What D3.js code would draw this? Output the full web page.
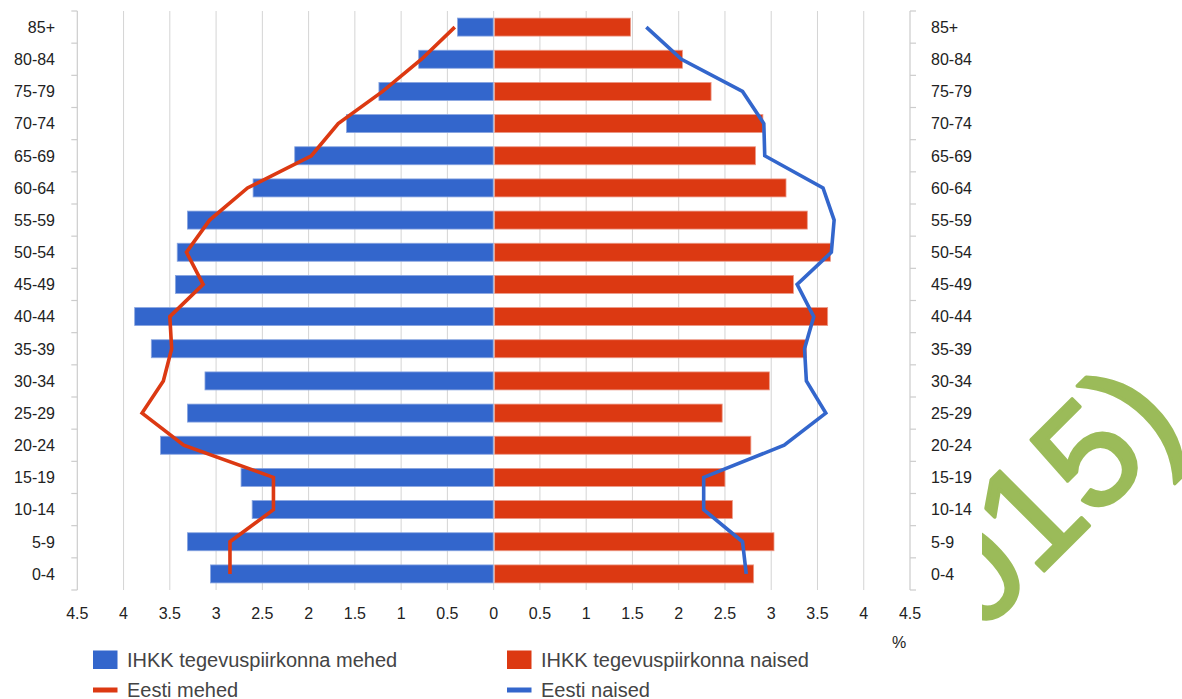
<!DOCTYPE html>
<html>
<head>
<meta charset="utf-8">
<script src="https://cdn.jsdelivr.net/npm/d3@7"></script>
<style>
  html, body { margin: 0; padding: 0; background: #fff; }
  svg { display: block; font-family: "Liberation Sans", Arial, sans-serif; }
</style>
</head>
<body>
<svg id="chart" width="1182" height="699"></svg>
<script>
// ---- data ----
const categories = ["85+","80-84","75-79","70-74","65-69","60-64","55-59","50-54","45-49",
                    "40-44","35-39","30-34","25-29","20-24","15-19","10-14","5-9","0-4"];
const ihkkMen   = [0.39,0.81,1.24,1.59,2.15,2.60,3.31,3.42,3.44,3.88,3.70,3.12,3.31,3.60,2.73,2.61,3.31,3.06];
const ihkkWomen = [1.48,2.04,2.35,2.91,2.83,3.16,3.39,3.64,3.24,3.61,3.38,2.98,2.47,2.78,2.50,2.58,3.03,2.81];
const estMen    = [0.42,0.78,1.20,1.68,1.97,2.66,3.07,3.32,3.14,3.50,3.48,3.57,3.80,3.35,2.38,2.38,2.85,2.85];
const estWomen  = [1.65,2.03,2.69,2.92,2.93,3.56,3.68,3.65,3.28,3.46,3.36,3.38,3.59,3.14,2.27,2.27,2.69,2.73];
const xTicks    = [-4.5,-4,-3.5,-3,-2.5,-2,-1.5,-1,-0.5,0,0.5,1,1.5,2,2.5,3,3.5,4,4.5];
const legendItems = ["IHKK tegevuspiirkonna mehed","IHKK tegevuspiirkonna naised","Eesti mehed","Eesti naised"];
const watermark = "015)";

const BLUE = "#3366cc", RED = "#dc3912";

const svg = d3.select("#chart");
const x = d3.scaleLinear().domain([-4.5, 4.5]).range([77.3, 910]);
const y = d3.scaleBand().domain(categories).range([11, 590]).paddingInner(0.44).paddingOuter(0.22);
const yc = c => y(c) + y.bandwidth() / 2;

// ---- watermark (partially visible, clipped) ----
svg.append("defs").append("clipPath").attr("id", "wmclip")
  .append("rect").attr("x", 982).attr("y", 0).attr("width", 220).attr("height", 699);
svg.append("g").attr("clip-path", "url(#wmclip)")
  .append("text")
  .attr("transform", "translate(978,637) rotate(-45)")
  .attr("font-size", 148)
  .attr("fill", "#9bbb59")
  .attr("stroke", "#9bbb59").attr("stroke-width", 3.5).attr("stroke-linejoin", "round")
  .text(watermark);

// ---- gridlines ----
svg.append("g").selectAll("line").data(xTicks.slice(1, -1)).join("line")
  .attr("x1", d => x(d)).attr("x2", d => x(d))
  .attr("y1", 11).attr("y2", 590)
  .attr("stroke", "#d4d4d4").attr("stroke-width", 1);

// ---- side axis lines + ticks ----
const boundaries = d3.range(categories.length + 1).map(i => 11 + i * (579 / categories.length));
[[x(-4.5), -6], [x(4.5), 6]].forEach(([ax, dir]) => {
  svg.append("line").attr("x1", ax).attr("x2", ax).attr("y1", 11).attr("y2", 590)
    .attr("stroke", "#cccccc").attr("stroke-width", 1.2);
  svg.append("g").selectAll("line").data(boundaries).join("line")
    .attr("x1", ax).attr("x2", ax + dir)
    .attr("y1", d => d).attr("y2", d => d)
    .attr("stroke", "#cccccc").attr("stroke-width", 1.2);
});

// ---- bars ----
svg.append("g").selectAll("rect").data(categories).join("rect")
  .attr("x", (c, i) => x(-ihkkMen[i]))
  .attr("y", c => y(c))
  .attr("width", (c, i) => x(0) - 0.5 - x(-ihkkMen[i]))
  .attr("height", y.bandwidth())
  .attr("fill", BLUE).attr("stroke", "#8aa6e0").attr("stroke-width", 0.8);
svg.append("g").selectAll("rect").data(categories).join("rect")
  .attr("x", x(0) + 1)
  .attr("y", c => y(c))
  .attr("width", (c, i) => x(ihkkWomen[i]) - x(0) - 1)
  .attr("height", y.bandwidth())
  .attr("fill", RED).attr("stroke", "#ec9a88").attr("stroke-width", 0.8);

// ---- lines ----
const lineGen = d3.line().x(d => d[0]).y(d => d[1]);
svg.append("path")
  .attr("d", lineGen(categories.map((c, i) => [x(-estMen[i]), yc(c)])))
  .attr("fill", "none").attr("stroke", RED).attr("stroke-width", 3.6)
  .attr("stroke-linejoin", "miter");
svg.append("path")
  .attr("d", lineGen(categories.map((c, i) => [x(estWomen[i]), yc(c)])))
  .attr("fill", "none").attr("stroke", BLUE).attr("stroke-width", 3.6)
  .attr("stroke-linejoin", "miter");

// ---- category labels ----
svg.append("g").selectAll("text").data(categories).join("text")
  .attr("x", 55).attr("y", c => yc(c)).attr("dy", "0.36em")
  .attr("text-anchor", "end").attr("font-size", 16).attr("fill", "#222")
  .text(c => c);
svg.append("g").selectAll("text").data(categories).join("text")
  .attr("x", 931).attr("y", c => yc(c)).attr("dy", "0.36em")
  .attr("text-anchor", "start").attr("font-size", 16).attr("fill", "#222")
  .text(c => c);

// ---- x tick labels ----
svg.append("g").selectAll("text").data(xTicks).join("text")
  .attr("x", d => x(d)).attr("y", 619)
  .attr("text-anchor", "middle").attr("font-size", 16).attr("fill", "#222")
  .text(d => d3.format("~g")(Math.abs(d)));
svg.append("text").attr("x", 899).attr("y", 648)
  .attr("text-anchor", "middle").attr("font-size", 16).attr("fill", "#222").text("%");

// ---- legend ----
const lg = svg.append("g");
const legendPos = [[93, 660, "rect", BLUE], [507, 660, "rect", RED], [93, 690, "line", RED], [507, 690, "line", BLUE]];
legendItems.forEach((t, i) => {
  const [lx, ly, kind, col] = legendPos[i];
  if (kind === "rect") {
    lg.append("rect").attr("x", lx).attr("y", ly - 9.5).attr("width", 24.5).attr("height", 18.5).attr("fill", col);
  } else {
    lg.append("rect").attr("x", lx).attr("y", ly - 2.5).attr("width", 24.5).attr("height", 5).attr("fill", col);
  }
  lg.append("text").attr("x", lx + 34).attr("y", ly).attr("dy", "0.36em")
    .attr("font-size", 20).attr("fill", "#444").text(t);
});
</script>
</body>
</html>
